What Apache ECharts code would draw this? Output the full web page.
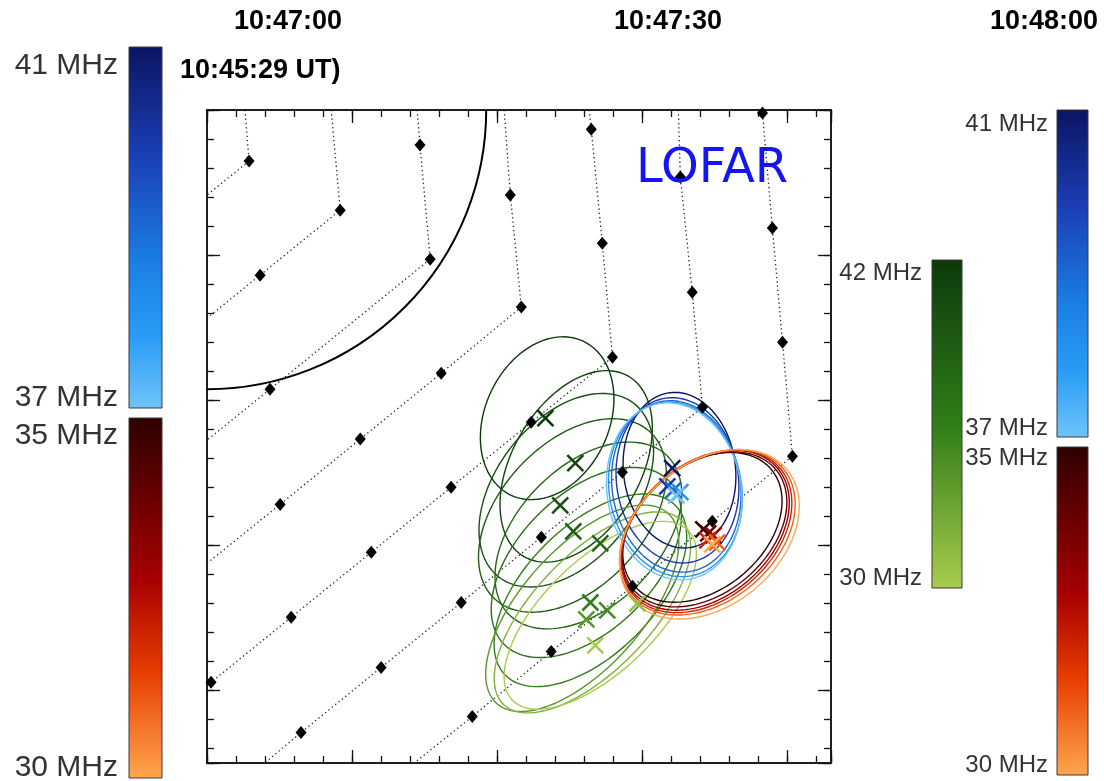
<!DOCTYPE html>
<html><head><meta charset="utf-8">
<script src="https://cdn.jsdelivr.net/npm/echarts@6/dist/echarts.min.js"></script>
<style>html,body{margin:0;padding:0;background:#fff}#c{width:1104px;height:781px}</style>
</head><body><div id="c"></div>
<script>
// ---------- axes (sky-plane units, 500 per major tick; y measured downward from the top edge)
const xRange = [0, 2150];
const yRange = [0, 2250];
const minorStep = 100;
const majorStep = 500;

// ---------- texts
const topTimes = ['10:47:00', '10:47:30', '10:48:00'];
const startLabel = '10:45:29 UT)';
const instrument = 'LOFAR';

// ---------- frequency ranges of the three colour bars (MHz)
const blueRange = [41, 37];
const redRange = [35, 30];
const greenRange = [42, 30];

// ---------- solar limb
const limbCenter = [0, 0];
const limbRadius = 962;

// ---------- dotted field lines (interior points carry diamond markers)
const lineA = [[131, 0], [145, 176], [0, 293]];
const lineB = [[428, 0], [459, 345], [183, 569], [0, 717]];
const lineC = [[724, 0], [734, 121], [769, 514], [217, 962], [0, 1138]];
const lineD = [[1024, 0], [1045, 293], [1083, 679], [807, 907], [528, 1134], [252, 1359], [0, 1562]];
const lineE = [[1317, 0], [1324, 66], [1362, 459], [1397, 852], [1117, 1076], [841, 1300], [566, 1524], [290, 1748], [14, 1972], [0, 1983]];
const lineF = [[1624, 0], [1631, 231], [1672, 628], [1707, 1024], [1431, 1248], [1152, 1472], [876, 1697], [600, 1921], [324, 2145], [199, 2250]];
const lineG = [[1910, 0], [1914, 10], [1948, 407], [1983, 800], [2017, 1193], [1741, 1417], [1466, 1641], [1186, 1866], [914, 2090], [714, 2250]];

// ---------- source contours (centre x, centre y, semi-major, semi-minor, tilt deg)
const blueFreqs = [41, 40, 39, 38, 37];
const blueCX = [1628, 1621, 1617, 1614, 1610];
const blueCY = [1241, 1276, 1297, 1307, 1314];
const blueA = [269, 286, 297, 303, 307];
const blueB = [193, 210, 221, 228, 231];
const blueTilt = [97, 98, 99, 100, 100];

const redFreqs = [35, 34, 33, 32, 31, 30];
const redCX = [1707, 1714, 1717, 1721, 1724, 1731];
const redCY = [1438, 1445, 1448, 1452, 1455, 1462];
const redA = [310, 321, 328, 334, 341, 348];
const redB = [214, 221, 228, 231, 238, 245];
const redTilt = [40, 40, 41, 41, 40, 40];

const greenFreqs = [42, 41, 40, 39, 38, 37, 36, 34, 32, 30];
const greenCX = [1172, 1272, 1238, 1259, 1314, 1307, 1321, 1293, 1328, 1355];
const greenCY = [1062, 1228, 1310, 1397, 1466, 1559, 1655, 1717, 1731, 1741];
const greenA = [293, 359, 379, 393, 386, 400, 414, 441, 441, 421];
const greenB = [214, 221, 241, 248, 241, 234, 221, 207, 200, 193];
const greenTilt = [65, 60, 52, 47, 45, 45, 45, 48, 46, 44];

// ---------- centroid crosses
const blueXFreqs = [41, 40, 39, 38, 37];
const blueXPos = [[1603, 1234], [1586, 1297], [1607, 1310], [1631, 1317], [1617, 1328]];
const redXFreqs = [35, 34, 33, 32, 31, 30];
const redXPos = [[1710, 1445], [1727, 1459], [1745, 1466], [1724, 1483], [1758, 1490], [1741, 1497]];
const greenXFreqs = [42, 41, 40, 39, 38, 36, 35, 34, 31, 30];
const greenXPos = [[1166, 1062], [1269, 1217], [1217, 1362], [1262, 1452], [1355, 1493], [1321, 1697], [1379, 1724], [1307, 1755], [1483, 1700], [1338, 1845]];

// ---------- colour maps (0 = top of bar / highest frequency)
const blueStops = [[0, '#0b1463'], [0.3, '#1a3fb5'], [0.6, '#1a7fe6'], [0.8, '#2a9cf5'], [1, '#6ec4fa']];
const redStops = [[0, '#2e0000'], [0.45, '#a80000'], [0.7, '#e63c00'], [1, '#ffa64d']];
const greenStops = [[0, '#0b3a0b'], [0.5, '#2f7d18'], [1, '#a9cc4c']];

function hex(c) { return [parseInt(c.slice(1, 3), 16), parseInt(c.slice(3, 5), 16), parseInt(c.slice(5, 7), 16)]; }
function colorAt(stops, t) {
  t = Math.max(0, Math.min(1, t));
  for (let i = 1; i < stops.length; i++) {
    if (t <= stops[i][0]) {
      const t0 = stops[i - 1][0], t1 = stops[i][0];
      const k = (t - t0) / (t1 - t0);
      const c0 = hex(stops[i - 1][1]), c1 = hex(stops[i][1]);
      return 'rgb(' + c0.map((v, j) => Math.round(v + (c1[j] - v) * k)).join(',') + ')';
    }
  }
  return stops[stops.length - 1][1];
}
function freqColor(stops, range, f) { return colorAt(stops, (range[0] - f) / (range[0] - range[1])); }

function ellipseRender(stops, range) {
  return function (params, api) {
    const cx = api.value(0), cy = api.value(1), a = api.value(2), b = api.value(3);
    const th = api.value(4) * Math.PI / 180, f = api.value(5);
    const ux = Math.cos(th), uy = -Math.sin(th);
    const vx = Math.sin(th), vy = Math.cos(th);
    const pts = [];
    for (let i = 0; i < 120; i++) {
      const t = i / 120 * 2 * Math.PI;
      const ca = a * Math.cos(t), sb = b * Math.sin(t);
      pts.push(api.coord([cx + ca * ux + sb * vx, cy + ca * uy + sb * vy]));
    }
    return { type: 'polygon', shape: { points: pts },
      style: { fill: 'none', stroke: freqColor(stops, range, f), lineWidth: 1.4 } };
  };
}
function crossRender(stops, range) {
  return function (params, api) {
    const p = api.coord([api.value(0), api.value(1)]);
    const c = freqColor(stops, range, api.value(2));
    const h = 8;
    return { type: 'group', children: [
      { type: 'line', shape: { x1: p[0] - h, y1: p[1] - h, x2: p[0] + h, y2: p[1] + h }, style: { stroke: c, lineWidth: 2.5 } },
      { type: 'line', shape: { x1: p[0] - h, y1: p[1] + h, x2: p[0] + h, y2: p[1] - h }, style: { stroke: c, lineWidth: 2.5 } }
    ] };
  };
}
function zip(fr, cx, cy, a, b, t) { return fr.map((f, i) => [cx[i], cy[i], a[i], b[i], t[i], f]); }

function axisCfg(pos, step, len, range, inverse) {
  return {
    type: 'value', position: pos, min: range[0], max: range[1], interval: step, inverse: !!inverse,
    axisLine: { show: true, onZero: false, lineStyle: { color: '#111', width: 1.5 } },
    axisTick: { show: true, inside: true, length: len, lineStyle: { color: '#111', width: 1.3 } },
    axisLabel: { show: false }, splitLine: { show: false }
  };
}

const fieldLines = [lineA, lineB, lineC, lineD, lineE, lineF, lineG];
const diamondPts = [];
fieldLines.forEach(l => l.slice(1, -1).forEach(p => diamondPts.push(p)));

const series = [];
fieldLines.forEach(l => series.push({
  type: 'line', data: l, showSymbol: false, silent: true, z: 2,
  lineStyle: { color: '#222', width: 1.3, type: [1.3, 3] }
}));
series.push({
  type: 'custom', silent: true, z: 3, data: [[limbCenter[0], limbCenter[1], limbRadius]],
  renderItem: function (params, api) {
    const c = api.coord([api.value(0), api.value(1)]);
    const e = api.coord([api.value(0) + api.value(2), api.value(1)]);
    return { type: 'arc', shape: { cx: c[0], cy: c[1], r: Math.abs(e[0] - c[0]), startAngle: 0, endAngle: Math.PI / 2, clockwise: true },
      style: { fill: 'none', stroke: '#000', lineWidth: 2 } };
  }
});
series.push({ type: 'custom', silent: true, z: 4, data: zip(greenFreqs, greenCX, greenCY, greenA, greenB, greenTilt), renderItem: ellipseRender(greenStops, greenRange) });
series.push({ type: 'custom', silent: true, z: 4, data: zip(blueFreqs, blueCX, blueCY, blueA, blueB, blueTilt), renderItem: ellipseRender(blueStops, blueRange) });
series.push({ type: 'custom', silent: true, z: 4, data: zip(redFreqs, redCX, redCY, redA, redB, redTilt), renderItem: ellipseRender(redStops, redRange) });
series.push({ type: 'scatter', data: diamondPts, symbol: 'diamond', symbolSize: [11, 13], silent: true, z: 5, itemStyle: { color: '#000', opacity: 1 } });
series.push({ type: 'custom', silent: true, z: 6, data: greenXPos.map((p, i) => [p[0], p[1], greenXFreqs[i]]), renderItem: crossRender(greenStops, greenRange) });
series.push({ type: 'custom', silent: true, z: 6, data: blueXPos.map((p, i) => [p[0], p[1], blueXFreqs[i]]), renderItem: crossRender(blueStops, blueRange) });
series.push({ type: 'custom', silent: true, z: 6, data: redXPos.map((p, i) => [p[0], p[1], redXFreqs[i]]), renderItem: crossRender(redStops, redRange) });

function txt(x, y, s, font, align, color) {
  return { type: 'text', x: x, y: y, silent: true, z: 10,
    style: { text: s, font: font, fill: color || '#000', align: align, textAlign: align, verticalAlign: 'middle', textVerticalAlign: 'middle' } };
}
function bar(x, y, w, h, stops) {
  return { type: 'rect', shape: { x: x, y: y, width: w, height: h }, silent: true, z: 10,
    style: { fill: new echarts.graphic.LinearGradient(0, 0, 0, 1, stops.map(s => ({ offset: s[0], color: s[1] }))), stroke: '#3a3a3a', lineWidth: 1 } };
}
const lf = '30px "Liberation Sans", Arial, sans-serif';
const rf = '24px "Liberation Sans", Arial, sans-serif';
const tf = 'bold 27px "Liberation Sans", Arial, sans-serif';
const graphics = [
  txt(288, 22, topTimes[0], tf, 'center'),
  txt(668, 22, topTimes[1], tf, 'center'),
  txt(1044, 22, topTimes[2], tf, 'center'),
  txt(180, 71, startLabel, tf, 'left'),
  txt(636, 170, instrument, '48px "DejaVu Sans", sans-serif', 'left', '#1414f5'),
  bar(129, 47, 33, 361, blueStops),
  bar(129, 418, 33, 360, redStops),
  txt(118, 66, blueRange[0] + ' MHz', lf, 'right', '#333'),
  txt(118, 398, blueRange[1] + ' MHz', lf, 'right', '#333'),
  txt(118, 436, redRange[0] + ' MHz', lf, 'right', '#333'),
  txt(118, 768, redRange[1] + ' MHz', lf, 'right', '#333'),
  bar(932, 260, 30, 328, greenStops),
  txt(922, 273, greenRange[0] + ' MHz', rf, 'right', '#333'),
  txt(922, 578, greenRange[1] + ' MHz', rf, 'right', '#333'),
  bar(1057, 110, 31, 327, blueStops),
  txt(1048, 124, blueRange[0] + ' MHz', rf, 'right', '#333'),
  txt(1048, 428, blueRange[1] + ' MHz', rf, 'right', '#333'),
  bar(1057, 447, 31, 328, redStops),
  txt(1048, 458, redRange[0] + ' MHz', rf, 'right', '#333'),
  txt(1048, 765, redRange[1] + ' MHz', rf, 'right', '#333')
];

const chart = echarts.init(document.getElementById('c'), null, { renderer: 'canvas' });
chart.setOption({
  animation: false,
  backgroundColor: '#fff',
  grid: { left: 207, top: 110, width: 624, height: 653, show: false },
  xAxis: [
    axisCfg('bottom', minorStep, 7, xRange), axisCfg('bottom', majorStep, 13, xRange),
    axisCfg('top', minorStep, 7, xRange), axisCfg('top', majorStep, 13, xRange)
  ],
  yAxis: [
    axisCfg('left', minorStep, 7, yRange, true), axisCfg('left', majorStep, 13, yRange, true),
    axisCfg('right', minorStep, 7, yRange, true), axisCfg('right', majorStep, 13, yRange, true)
  ],
  series: series,
  graphic: graphics
});
</script></body></html>
